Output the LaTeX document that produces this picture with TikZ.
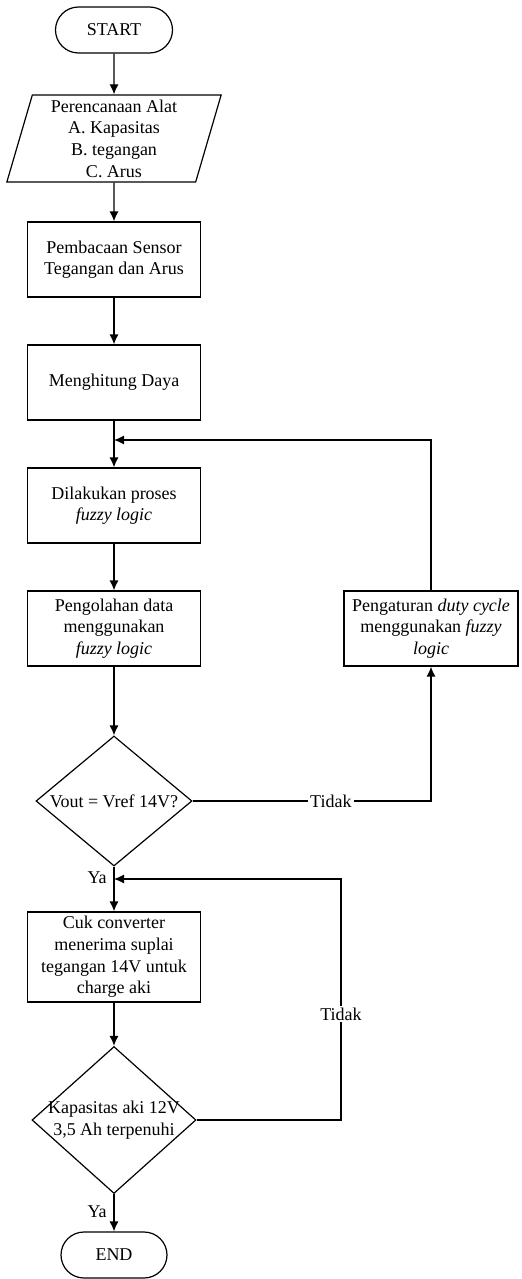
\documentclass[tikz,border=0pt]{standalone}
\usepackage{fontspec}
\setmainfont{Liberation Serif}
\usetikzlibrary{shapes.geometric,arrows.meta}

\begin{document}
\begin{tikzpicture}[x=0.5pt,y=-0.5pt,
  font=\fontsize{9}{10.8}\selectfont,
  terminal/.style={draw,line width=0.6pt,rectangle,rounded corners=11.5pt,minimum height=23pt,inner sep=2pt},
  proses/.style={draw,line width=0.6pt,rectangle,align=center,minimum width=86.5pt,minimum height=37.5pt,inner sep=2pt},
  masukan/.style={draw,line width=0.6pt,trapezium,trapezium left angle=76,trapezium right angle=104,trapezium stretches=true,align=center,minimum width=108pt,minimum height=43.5pt,inner sep=1pt},
  keputusan/.style={draw,line width=0.6pt,diamond,inner sep=0pt},
  panah/.style={line width=0.6pt,-{Latex[length=5pt,width=4.5pt]}},
  ket/.style={fill=white,inner sep=1pt}]
  \useasboundingbox (0,0) rectangle (521,1279);

  % simbol alur
  \node[terminal,minimum width=58.5pt] (mulai) at (114,30) {START};
  \node[masukan] (rencana) at (114,138.5) {Perencanaan Alat\\A. Kapasitas\\B. tegangan\\C. Arus};
  \node[proses] (sensor) at (114,259.5) {Pembacaan Sensor\\Tegangan dan Arus};
  \node[proses] (daya) at (114,382.5) {Menghitung Daya};
  \node[proses] (fuzzy) at (114,505.5) {Dilakukan proses\\\textit{fuzzy logic}};
  \node[proses] (olah) at (114,628.5) {Pengolahan data\\menggunakan\\\textit{fuzzy logic}};
  \node[proses,minimum width=87pt] (duty) at (431,628.5) {Pengaturan \textit{duty cycle}\\menggunakan \textit{fuzzy}\\\textit{logic}};
  \node[keputusan,minimum width=78pt,minimum height=65pt] (cek1) at (114,801) {};
  \node[align=center] (cek1t) at (cek1) {Vout = Vref 14V?};
  \node[proses,minimum height=45pt] (cuk) at (114,957) {Cuk converter\\menerima suplai\\tegangan 14V untuk\\charge aki};
  \node[keputusan,minimum width=82pt,minimum height=73.5pt] (cek2) at (114,1120) {};
  \node[align=center] (cek2t) at (cek2) {Kapasitas aki 12V\\3,5 Ah terpenuhi};
  \node[terminal,minimum width=53pt] (selesai) at (114,1255) {END};

  % titik sambung
  \coordinate (gabung1) at (114,440);
  \coordinate (gabung2) at (114,879);
  \coordinate (belok2) at (341,879);

  % garis alur
  \draw[panah] (mulai) -- (rencana);
  \draw[panah] (rencana) -- (sensor);
  \draw[panah] (sensor) -- (daya);
  \draw[panah] (daya) -- (fuzzy);
  \draw[panah] (fuzzy) -- (olah);
  \draw[panah] (olah) -- (cek1);
  \draw[panah] (cek1) -- node[left,pos=0.24] {Ya} (cuk);
  \draw[panah] (cuk) -- (cek2);
  \draw[panah] (cek2) -- node[left,pos=0.46] {Ya} (selesai);
  \draw[panah] (cek1.east) -| node[ket,pos=0.29] {Tidak} (duty.south);
  \draw[panah] (duty.north) |- (gabung1);
  \draw[panah] (cek2.east) -| node[ket,pos=0.72] {Tidak} (belok2) -- (gabung2);
\end{tikzpicture}
\end{document}
